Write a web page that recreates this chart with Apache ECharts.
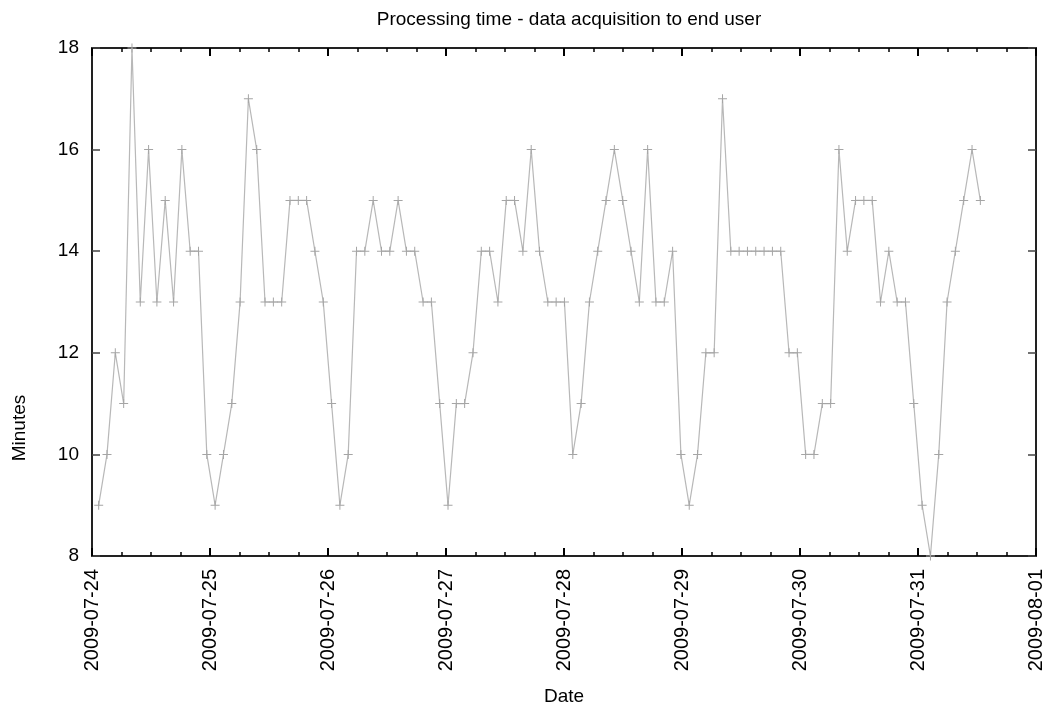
<!DOCTYPE html>
<html>
<head>
<meta charset="utf-8">
<script src="https://cdn.jsdelivr.net/npm/echarts@6/dist/echarts.min.js"></script>
<style>
html,body{margin:0;padding:0;background:#fff;}
#chart{width:1048px;height:711px;}
</style>
</head>
<body>
<div id="chart"></div>
<script>
// Hours since 2009-07-24 00:00 for each sample
const hours = [
  1.36, 3.05, 4.74, 6.44, 8.13, 9.82, 11.51, 13.20, 14.89, 16.59,
  18.28, 19.97, 21.66, 23.35, 25.04, 26.74, 28.43, 30.12, 31.81, 33.50,
  35.19, 36.89, 38.58, 40.27, 41.96, 43.65, 45.34, 47.04, 48.73, 50.42,
  52.11, 53.80, 55.49, 57.19, 58.88, 60.57, 62.26, 63.95, 65.64, 67.34,
  69.03, 70.72, 72.41, 74.10, 75.79, 77.49, 79.18, 80.87, 82.56, 84.25,
  85.94, 87.64, 89.33, 91.02, 92.71, 94.40, 96.09, 97.79, 99.48, 101.17,
  102.86, 104.55, 106.24, 107.94, 109.63, 111.32, 113.01, 114.70, 116.39, 118.09,
  119.78, 121.47, 123.16, 124.85, 126.54, 128.24, 129.93, 131.62, 133.31, 135.00,
  136.69, 138.39, 140.08, 141.77, 143.46, 145.15, 146.84, 148.54, 150.23, 151.92,
  153.61, 155.30, 156.99, 158.69, 160.38, 162.07, 163.76, 165.45, 167.14, 168.84,
  170.53, 172.22, 173.91, 175.60, 177.29, 178.99, 180.68
];
// Processing time in minutes
const minutes = [
  9, 10, 12, 11, 18, 13, 16, 13, 15, 13,
  16, 14, 14, 10, 9, 10, 11, 13, 17, 16,
  13, 13, 13, 15, 15, 15, 14, 13, 11, 9,
  10, 14, 14, 15, 14, 14, 15, 14, 14, 13,
  13, 11, 9, 11, 11, 12, 14, 14, 13, 15,
  15, 14, 16, 14, 13, 13, 13, 10, 11, 13,
  14, 15, 16, 15, 14, 13, 16, 13, 13, 14,
  10, 9, 10, 12, 12, 17, 14, 14, 14, 14,
  14, 14, 14, 12, 12, 10, 10, 11, 11, 16,
  14, 15, 15, 15, 13, 14, 13, 13, 11, 9,
  8, 10, 13, 14, 15, 16, 15
];
const dateLabels = [
  '2009-07-24', '2009-07-25', '2009-07-26', '2009-07-27', '2009-07-28',
  '2009-07-29', '2009-07-30', '2009-07-31', '2009-08-01'
];
const titleText = 'Processing time - data acquisition to end user';
const xName = 'Date';
const yName = 'Minutes';

const FONT = 'Liberation Sans, Arial, Helvetica, sans-serif';
const points = hours.map((h, i) => [h, minutes[i]]);

const frameLine = { show: true, onZero: false, lineStyle: { color: '#222', width: 2 } };
const xTick = { show: true, inside: true, length: 8, lineStyle: { color: '#000', width: 2 } };
const xMinor = { show: true, splitNumber: 4, length: 4, lineStyle: { color: '#000', width: 1.5 } };
const yTick = { show: true, inside: true, length: 8, lineStyle: { color: '#444', width: 1.5 } };

const chart = echarts.init(document.getElementById('chart'), null, { renderer: 'canvas' });
chart.setOption({
  animation: false,
  backgroundColor: '#fff',
  title: {
    text: titleText,
    left: 564, textAlign: 'center', top: 5,
    textStyle: { fontFamily: FONT, fontSize: 19, fontWeight: 'normal', color: '#000' }
  },
  grid: { left: 92, right: 12, top: 48, bottom: 151, containLabel: false },
  xAxis: [
    {
      type: 'value', position: 'bottom', min: 0, max: 192, interval: 24,
      axisLine: frameLine, axisTick: xTick, minorTick: xMinor,
      splitLine: { show: false }, minorSplitLine: { show: false },
      axisLabel: {
        rotate: 90, margin: 13, fontFamily: FONT, fontSize: 20, color: '#000',
        formatter: v => dateLabels[Math.round(v / 24)]
      },
      name: xName, nameLocation: 'middle', nameGap: 131,
      nameTextStyle: { fontFamily: FONT, fontSize: 19, color: '#000' }
    },
    {
      type: 'value', position: 'top', min: 0, max: 192, interval: 24,
      axisLine: frameLine, axisTick: xTick, minorTick: xMinor,
      splitLine: { show: false }, minorSplitLine: { show: false },
      axisLabel: { show: false }
    }
  ],
  yAxis: [
    {
      type: 'value', position: 'left', min: 8, max: 18, interval: 2,
      axisLine: frameLine, axisTick: yTick,
      splitLine: { show: false },
      axisLabel: { margin: 13, fontFamily: FONT, fontSize: 19, color: '#000' }
    },
    {
      type: 'value', position: 'right', min: 8, max: 18, interval: 2,
      axisLine: frameLine, axisTick: yTick,
      splitLine: { show: false },
      axisLabel: { show: false }
    }
  ],
  graphic: [
    {
      type: 'text', x: 20, y: 428, rotation: Math.PI / 2,
      style: {
        text: yName, fontFamily: FONT, fontSize: 19, fill: '#000',
        textAlign: 'center', textVerticalAlign: 'middle'
      }
    }
  ],
  series: [
    {
      type: 'line', xAxisIndex: 0, yAxisIndex: 0,
      data: points,
      clip: false,
      showSymbol: true,
      symbol: 'path://M0,4.45H10V5.55H0Z M4.45,0H5.55V10H4.45Z',
      symbolSize: 9,
      itemStyle: { color: '#a5a5a5' },
      lineStyle: { color: '#b8b8b8', width: 1.2 },
      emphasis: { disabled: true }
    }
  ]
});
</script>
</body>
</html>
